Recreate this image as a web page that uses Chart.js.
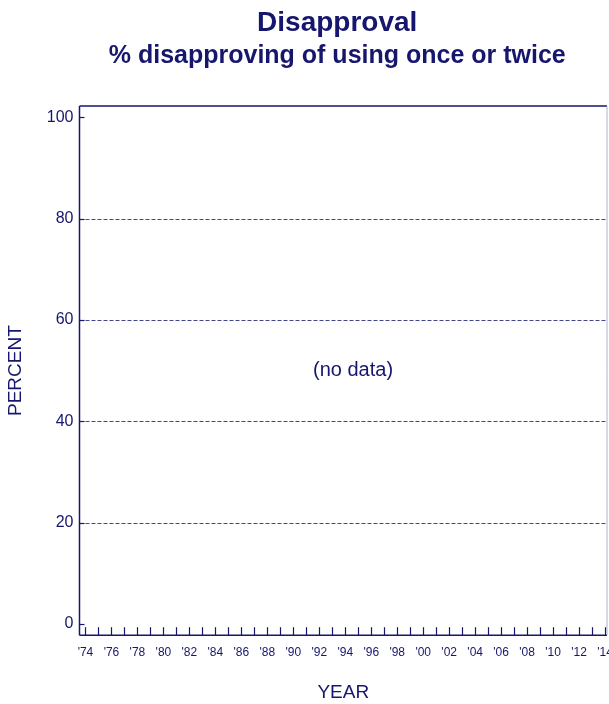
<!DOCTYPE html>
<html>
<head>
<meta charset="utf-8">
<script src="https://cdn.jsdelivr.net/npm/chart.js@4"></script>
<style>
  body { margin: 0; background: #fff; }
  #wrap { width: 609px; height: 704px; }
</style>
</head>
<body>
<div id="wrap"><canvas id="chart"></canvas></div>
<script>
const NAVY = "#16166e";
const FONT = "Arial, 'Liberation Sans', sans-serif";
const titleText = "Disapproval";
const subtitleText = "% disapproving of using once or twice";
const years = [];
for (let y = 1974; y <= 2014; y++) years.push(y);
const yearLabels = years.filter(y => y % 2 === 0);
const yTicks = [0, 20, 40, 60, 80, 100];
const gridValues = [20, 40, 60, 80];
const disapproval = []; // no data

const axisPlugin = {
  id: "axisPlugin",
  afterDraw(chart) {
    const { ctx, chartArea: a, scales } = chart;
    ctx.save();
    // titles centred over the plot area
    const cx = (a.left + a.right) / 2 - 6;
    ctx.fillStyle = NAVY;
    ctx.textAlign = "center";
    ctx.textBaseline = "middle";
    ctx.font = "bold 28px " + FONT;
    ctx.fillText(titleText, cx, 23);
    ctx.font = "bold 25px " + FONT;
    ctx.fillText(subtitleText, cx, 56);

    ctx.strokeStyle = NAVY;
    ctx.setLineDash([4, 2]);
    ctx.lineWidth = 0.8;
    for (const v of gridValues) {
      const py = Math.round(scales.y.getPixelForValue(v)) + 0.5;
      ctx.beginPath(); ctx.moveTo(a.left, py); ctx.lineTo(a.right, py); ctx.stroke();
    }
    ctx.setLineDash([]);
    ctx.lineWidth = 1.5;
    ctx.beginPath();
    ctx.moveTo(a.left, a.top); ctx.lineTo(a.left, a.bottom);
    ctx.moveTo(a.left, a.top); ctx.lineTo(a.right, a.top);
    ctx.moveTo(a.left, a.bottom); ctx.lineTo(a.right, a.bottom);
    ctx.stroke();
    ctx.strokeStyle = "#b0b0d0";
    ctx.lineWidth = 1;
    ctx.beginPath(); ctx.moveTo(a.right, a.top); ctx.lineTo(a.right, a.bottom); ctx.stroke();
    ctx.strokeStyle = NAVY;
    ctx.lineWidth = 1.2;
    for (const v of yTicks) {
      const py = Math.round(scales.y.getPixelForValue(v)) + 0.5;
      ctx.beginPath(); ctx.moveTo(a.left, py); ctx.lineTo(a.left + 5, py); ctx.stroke();
    }
    for (const yr of years) {
      const px = Math.round(scales.x.getPixelForValue(yr)) + 0.5;
      ctx.beginPath(); ctx.moveTo(px, a.bottom); ctx.lineTo(px, a.bottom - 8); ctx.stroke();
    }
    ctx.font = "12px " + FONT;
    for (const yr of yearLabels) {
      ctx.fillText("'" + String(yr).slice(2), scales.x.getPixelForValue(yr), a.bottom + 17);
    }
    if (disapproval.length === 0) {
      ctx.font = "20px " + FONT;
      ctx.fillText("(no data)", scales.x.getPixelForValue(1994.6), scales.y.getPixelForValue(50));
    }
    ctx.restore();
  }
};

new Chart(document.getElementById("chart"), {
  type: "scatter",
  data: {
    datasets: [{ data: disapproval.map((v, i) => ({ x: years[i], y: v })), borderColor: NAVY }]
  },
  options: {
    responsive: true,
    maintainAspectRatio: false,
    animation: false,
    layout: { padding: { left: 4, right: 2, top: 106, bottom: 0 } },
    plugins: {
      legend: { display: false },
      tooltip: { enabled: false },
      title: { display: false },
      subtitle: { display: false }
    },
    scales: {
      x: {
        type: "linear",
        min: 1973.54,
        max: 2014.15,
        grid: { display: false, drawTicks: false, tickLength: 0 },
        border: { display: false },
        ticks: { display: false },
        title: {
          display: true,
          text: "YEAR",
          color: NAVY,
          font: { family: FONT, size: 19 },
          padding: { top: 46, bottom: 0 }
        }
      },
      y: {
        min: -2.2,
        max: 102.2,
        grid: { display: false, drawTicks: false, tickLength: 0 },
        border: { display: false },
        afterBuildTicks: (s) => { s.ticks = yTicks.map(v => ({ value: v })); },
        ticks: {
          color: NAVY,
          font: { family: FONT, size: 16 },
          padding: 6
        },
        title: {
          display: true,
          text: "PERCENT",
          color: NAVY,
          font: { family: FONT, size: 19 },
          padding: { top: 0, bottom: 14 }
        }
      }
    }
  },
  plugins: [axisPlugin]
});
</script>
</body>
</html>
